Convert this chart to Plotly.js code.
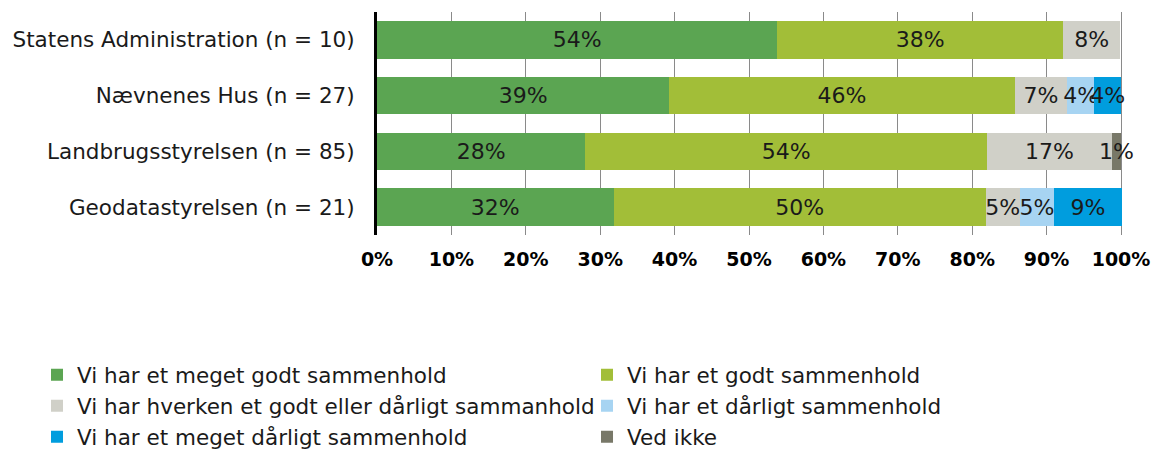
<!DOCTYPE html>
<html>
<head>
<meta charset="utf-8">
<script src="https://cdn.plot.ly/plotly-3.0.1.min.js"></script>
<style>html,body{margin:0;padding:0;background:#fff;}</style>
</head>
<body>
<div id="chart" style="width:1152px;height:450px;"></div>
<script>
const categories = ["Statens Administration (n = 10)", "Nævnenes Hus (n = 27)", "Landbrugsstyrelsen (n = 85)", "Geodatastyrelsen (n = 21)"];
const seriesNames = ["Vi har et meget godt sammenhold", "Vi har et godt sammenhold", "Vi har hverken et godt eller dårligt sammanhold", "Vi har et dårligt sammenhold", "Vi har et meget dårligt sammenhold", "Ved ikke"];
const meget_godt = [53.8, 39.3, 28.0, 31.8];
const godt = [38.4, 46.4, 54.0, 50.0];
const hverken = [7.7, 7.1, 16.8, 4.6];
const daarligt = [0, 3.6, 0, 4.6];
const meget_daarligt = [0, 3.6, 0, 9.1];
const ved_ikke = [0, 0, 1.2, 0];
const colors = ["#5ba552", "#a2be38", "#d0d0c8", "#a7d4f2", "#009dde", "#787868"];
const tickVals = [0,10,20,30,40,50,60,70,80,90,100];
const tickText = ["0%","10%","20%","30%","40%","50%","60%","70%","80%","90%","100%"];

const FONT = 'DejaVu Sans, Verdana, sans-serif';
const allSeries = [meget_godt, godt, hverken, daarligt, meget_daarligt, ved_ikke];
const traces = allSeries.map((vals, i) => ({
  type: 'bar',
  orientation: 'h',
  name: seriesNames[i],
  y: categories,
  x: vals,
  marker: {color: colors[i], line: {width: 0}},
  text: vals.map(v => v > 0 ? Math.round(v) + '%' : ''),
  textposition: 'inside',
  insidetextanchor: 'middle',
  constraintext: 'none',
  textangle: 0,
  textfont: {family: FONT, size: 22, color: '#1a1a1a'},
  hoverinfo: 'x+name'
}));

// plot area runs past the 100% line so the overflowing "1%" label is not clipped
const plotLeft = 377, plotRight100 = 1121, plotRight = 1152;
const xMax = 100 * (plotRight - plotLeft) / (plotRight100 - plotLeft);

const layout = {
  width: 1152, height: 450,
  barmode: 'stack',
  bargap: 0.33,
  margin: {l: plotLeft, r: 1152 - plotRight, t: 12, b: 215, pad: 0, autoexpand: false},
  paper_bgcolor: '#ffffff',
  plot_bgcolor: '#ffffff',
  font: {family: FONT, color: '#1a1a1a', size: 21.5},
  xaxis: {
    range: [0, xMax],
    tickvals: tickVals,
    ticktext: tickText,
    showgrid: true,
    gridcolor: '#8a8a8a',
    gridwidth: 1,
    zeroline: false,
    showline: false,
    ticks: '',
    tickfont: {family: FONT, size: 19, color: '#000', weight: 'bold'},
    ticklabelstandoff: 11,
    fixedrange: true
  },
  yaxis: {
    autorange: 'reversed',
    showline: true,
    linecolor: '#000',
    linewidth: 3,
    ticks: '',
    showgrid: false,
    tickfont: {family: FONT, size: 21.5, color: '#1a1a1a'},
    ticklabelstandoff: 15,
    fixedrange: true
  },
  showlegend: true,
  legend: {
    orientation: 'h',
    x: -0.4387, xanchor: 'left',
    y: -0.535, yanchor: 'top',
    traceorder: 'normal',
    entrywidth: 505,
    entrywidthmode: 'pixels',
    font: {family: FONT, size: 21.5, color: '#1a1a1a'},
    itemwidth: 30,
    tracegroupgap: 0
  }
};

Plotly.newPlot('chart', traces, layout, {displayModeBar: false, staticPlot: true});
</script>
</body>
</html>
